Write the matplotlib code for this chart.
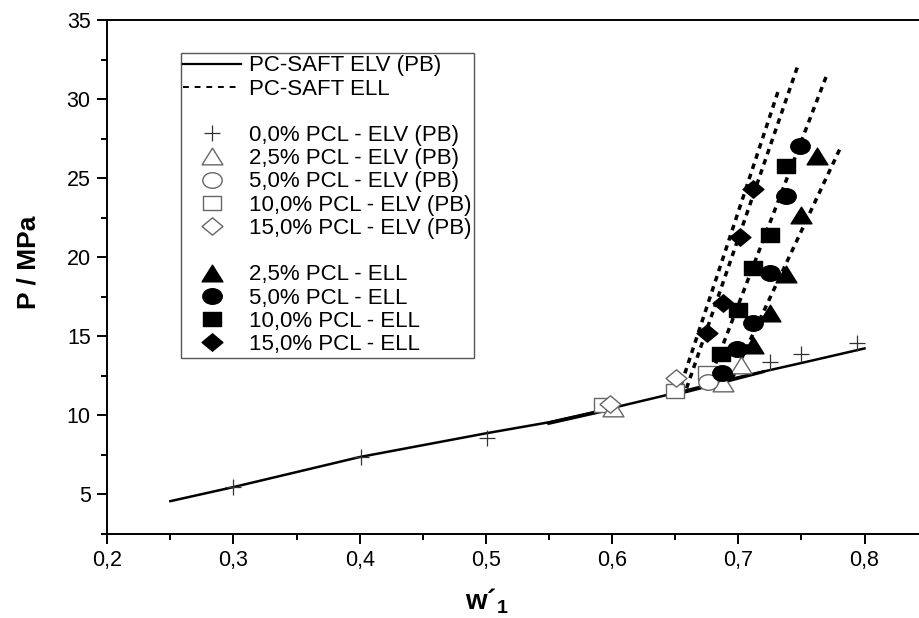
import matplotlib
matplotlib.use('Agg')
import matplotlib.pyplot as plt
from matplotlib.markers import MarkerStyle
from matplotlib.transforms import Affine2D
from matplotlib.lines import Line2D
from matplotlib.ticker import MultipleLocator, FuncFormatter

plt.rcParams['font.family'] = ['Liberation Sans', 'DejaVu Sans']
plt.rcParams['mathtext.fontset'] = 'custom'
plt.rcParams['mathtext.rm'] = 'Liberation Sans'
plt.rcParams['mathtext.bf'] = 'Liberation Sans:bold'

# ---------------- data ----------------
# PC-SAFT ELV (PB) model curve
elv_model_x = [0.25, 0.30, 0.35, 0.40, 0.45, 0.50, 0.55, 0.60, 0.65, 0.70, 0.75, 0.80]
elv_model_y = [4.56, 5.45, 6.40, 7.35, 8.10, 8.85, 9.55, 10.45, 11.40, 12.40, 13.30, 14.22]
# overlapping short ELV model branches (other PCL contents)
elv_branch1_x = [0.55, 0.60]
elv_branch1_y = [9.50, 10.40]
elv_branch2_x = [0.65, 0.72]
elv_branch2_y = [11.30, 12.75]

# PC-SAFT ELL model curves (one per PCL content)
ell_15_x = [0.655, 0.732]
ell_15_y = [12.0, 30.6]
ell_10_x = [0.659, 0.748]
ell_10_y = [11.7, 32.3]
ell_5_x = [0.676, 0.770]
ell_5_y = [12.0, 31.5]
ell_25_x = [0.695, 0.782]
ell_25_y = [12.3, 27.1]

# experimental ELV (PB)
pcl00_elv_x = [0.300, 0.401, 0.501, 0.725, 0.750, 0.794]
pcl00_elv_y = [5.44, 7.34, 8.54, 13.37, 13.84, 14.58]
pcl25_elv_x = [0.601, 0.688, 0.702]
pcl25_elv_y = [10.45, 12.05, 13.15]
pcl50_elv_x = [0.676]
pcl50_elv_y = [12.10]
pcl100_elv_x = [0.593, 0.650, 0.675]
pcl100_elv_y = [10.63, 11.50, 12.68]
pcl150_elv_x = [0.598, 0.651]
pcl150_elv_y = [10.72, 12.35]

# experimental ELL
pcl25_ell_x = [0.712, 0.725, 0.738, 0.750, 0.762]
pcl25_ell_y = [14.45, 16.47, 18.96, 22.66, 26.40]
pcl50_ell_x = [0.687, 0.699, 0.712, 0.725, 0.738, 0.749]
pcl50_ell_y = [12.68, 14.20, 15.80, 19.00, 23.86, 27.05]
pcl100_ell_x = [0.686, 0.700, 0.712, 0.725, 0.738]
pcl100_ell_y = [13.85, 16.65, 19.29, 21.39, 25.76]
pcl150_ell_x = [0.675, 0.688, 0.701, 0.712]
pcl150_ell_y = [15.17, 17.07, 21.25, 24.28]

labels = ["PC-SAFT ELV (PB)", "PC-SAFT ELL",
          "0,0% PCL - ELV (PB)", "2,5% PCL - ELV (PB)", "5,0% PCL - ELV (PB)",
          "10,0% PCL - ELV (PB)", "15,0% PCL - ELV (PB)",
          "2,5% PCL - ELL", "5,0% PCL - ELL", "10,0% PCL - ELL", "15,0% PCL - ELL"]

x_ticks = [0.2, 0.3, 0.4, 0.5, 0.6, 0.7, 0.8]
y_ticks = [5, 10, 15, 20, 25, 30, 35]


def wide(m, sx=1.25):
    ms = MarkerStyle(m)
    p = ms.get_path().transformed(ms.get_transform())
    return p.transformed(Affine2D().scale(sx, 1.0))


M_TRI = wide('^')
M_CIR = wide('o')
M_SQR = wide('s')
M_DIA = wide('D', 1.2)

fig = plt.figure(figsize=(9.19, 6.18), dpi=100)
ax = fig.add_axes([107.3 / 919, (618 - 533.7) / 618, 1 - 107.3 / 919, (533.7 - 20) / 618])

# model lines
ax.plot(elv_model_x, elv_model_y, color='black', lw=1.8, zorder=2)
ax.plot(elv_branch1_x, elv_branch1_y, color='black', lw=2.6, zorder=2)
ax.plot(elv_branch2_x, elv_branch2_y, color='black', lw=2.2, zorder=2)
dash = dict(color='black', lw=2.5, linestyle=(0, (1.6, 1.5)), zorder=2)
for xs, ys in [(ell_15_x, ell_15_y), (ell_10_x, ell_10_y), (ell_5_x, ell_5_y), (ell_25_x, ell_25_y)]:
    ax.plot(xs, ys, **dash)

open_kw = dict(linestyle='none', mfc='white', mec='#666666', mew=1.0)
fill_kw = dict(linestyle='none', color='black')

ax.plot(pcl00_elv_x, pcl00_elv_y, marker='+', ms=12, mew=0.9, color='#333333', linestyle='none', zorder=3)
ax.plot(pcl100_elv_x, pcl100_elv_y, marker=M_SQR, ms=13, zorder=3, **open_kw)
ax.plot(pcl25_elv_x, pcl25_elv_y, marker=M_TRI, ms=15, zorder=3, **open_kw)
ax.plot(pcl50_elv_x, pcl50_elv_y, marker=M_CIR, ms=14, zorder=3, **open_kw)
ax.plot(pcl150_elv_x, pcl150_elv_y, marker=M_DIA, ms=15, zorder=3, **open_kw)

ax.plot(pcl25_ell_x, pcl25_ell_y, marker=M_TRI, ms=15, zorder=4, **fill_kw)
ax.plot(pcl50_ell_x, pcl50_ell_y, marker=M_CIR, ms=14, zorder=4, **fill_kw)
ax.plot(pcl100_ell_x, pcl100_ell_y, marker=M_SQR, ms=13, zorder=4, **fill_kw)
ax.plot(pcl150_ell_x, pcl150_ell_y, marker=M_DIA, ms=15, zorder=4, **fill_kw)

# axes styling
ax.set_xlim(0.2, 0.2 + (919 - 107.3) / 1262)
ax.set_ylim(2.5, 35)
ax.spines['right'].set_visible(False)
for s in ['left', 'bottom', 'top']:
    ax.spines[s].set_linewidth(1.4)
ax.set_xticks(x_ticks)
ax.set_yticks(y_ticks)
ax.xaxis.set_minor_locator(MultipleLocator(0.05))
ax.yaxis.set_minor_locator(MultipleLocator(2.5))
ax.xaxis.set_major_formatter(FuncFormatter(lambda v, p: f"{v:.1f}".replace('.', ',')))
ax.tick_params(which='major', direction='out', length=7, width=1.4, labelsize=15.5, pad=5)
ax.tick_params(which='minor', direction='out', length=4, width=1.4)
ax.tick_params(top=False, right=False, which='both')

fig.text(28 / 919, 1 - 262 / 618, "P / MPa", rotation=90, ha='center', va='center',
         fontsize=19, fontweight='bold')
fig.text(487 / 919, 1 - 601 / 618, "w\u00b4$_\\mathbf{1}$", ha='center', va='center',
         fontsize=20, fontweight='bold')

# legend
blank = Line2D([], [], color='none')
handles = [
    Line2D([], [], color='black', lw=1.6),
    Line2D([], [], color='black', lw=1.4, linestyle=(0, (3, 3))),
    blank,
    Line2D([], [], marker='+', ms=12, mew=0.9, color='#333333', linestyle='none'),
    Line2D([], [], marker=M_TRI, ms=15, **open_kw),
    Line2D([], [], marker=M_CIR, ms=14, **open_kw),
    Line2D([], [], marker=M_SQR, ms=13, **open_kw),
    Line2D([], [], marker=M_DIA, ms=15, **open_kw),
    blank,
    Line2D([], [], marker=M_TRI, ms=15, **fill_kw),
    Line2D([], [], marker=M_CIR, ms=14, **fill_kw),
    Line2D([], [], marker=M_SQR, ms=13, **fill_kw),
    Line2D([], [], marker=M_DIA, ms=15, **fill_kw),
]
leg_labels = labels[:2] + [''] + labels[2:7] + [''] + labels[7:]
leg = ax.legend(handles, leg_labels, loc='upper left',
                bbox_to_anchor=((180.7 - 107.3) / 811.7, (533.7 - 52.7) / 513.7),
                fontsize=16, frameon=True, fancybox=False, framealpha=1,
                edgecolor='#555555', borderpad=0.12, borderaxespad=0,
                handlelength=2.6, handletextpad=0.35, labelspacing=0.1)
leg.get_frame().set_linewidth(1.0)

fig.savefig('out.png', dpi=100)
